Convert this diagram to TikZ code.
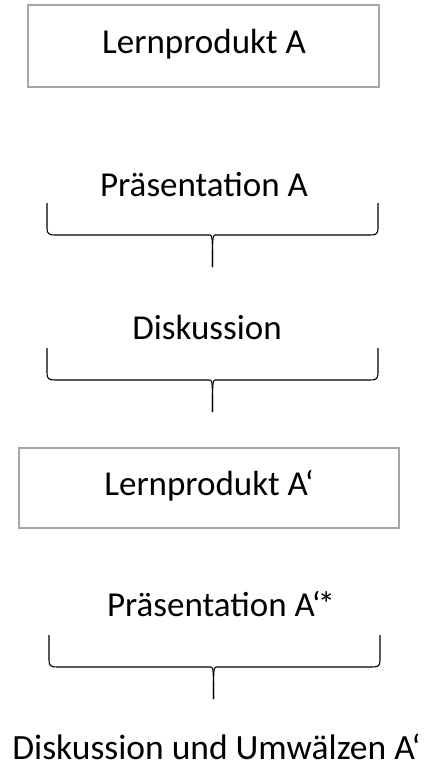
\documentclass[tikz,border=0pt]{standalone}
\usepackage{fontspec}
\setmainfont{Carlito}
\newcommand{\mybrace}[5]{% left x, right x, top y, horizontal y, tip x
  \draw[brace] (#1,#3) -- (#1,#4-7) .. controls (#1,#4-1) and (#1+2,#4) .. (#1+8,#4)
    -- (#5-2.5,#4) .. controls (#5,#4) and (#5,#4+5) .. (#5,#4+32);
  \draw[brace] (#2,#3) -- (#2,#4-7) .. controls (#2,#4-1) and (#2-2,#4) .. (#2-8,#4)
    -- (#5+2.5,#4) .. controls (#5,#4) and (#5,#4+5) .. (#5,#4+32);
}
\begin{document}
\begin{tikzpicture}[x=1pt,y=-1pt,
  lbl/.style={anchor=base,inner sep=0pt,font=\fontsize{35}{40}\selectfont},
  pbox/.style={draw=black!35,line width=2.5pt,inner sep=0pt},
  brace/.style={draw=black,line width=1.1pt,line join=round}]
\useasboundingbox (0,0) rectangle (430,765);
% boxes
\node[pbox,minimum width=351pt,minimum height=82pt] (b1) at (203.5,46) {};
\node[lbl] (t1) at (204,54) {Lernprodukt A};
\node[lbl] (t2) at (204,196) {Präsentation A};
\node[lbl] (t3) at (207,339) {Diskussion};
\node[pbox,minimum width=380pt,minimum height=80pt] (b2) at (209,488) {};
\node[lbl] (t4) at (209,495) {Lernprodukt A‘};
\node[lbl] (t5) at (221,616) {Präsentation A‘\kern-3pt*};
\node[lbl,font=\fontsize{35.5}{40}\selectfont,text depth=0pt] (t6) at (216.5,759) {Diskussion und Umwälzen A‘};
% braces
\mybrace{47}{378}{203}{235}{212.5}
\mybrace{47}{378}{348}{380}{212.5}
\mybrace{49}{380}{635}{667}{213.5}
\end{tikzpicture}
\end{document}
